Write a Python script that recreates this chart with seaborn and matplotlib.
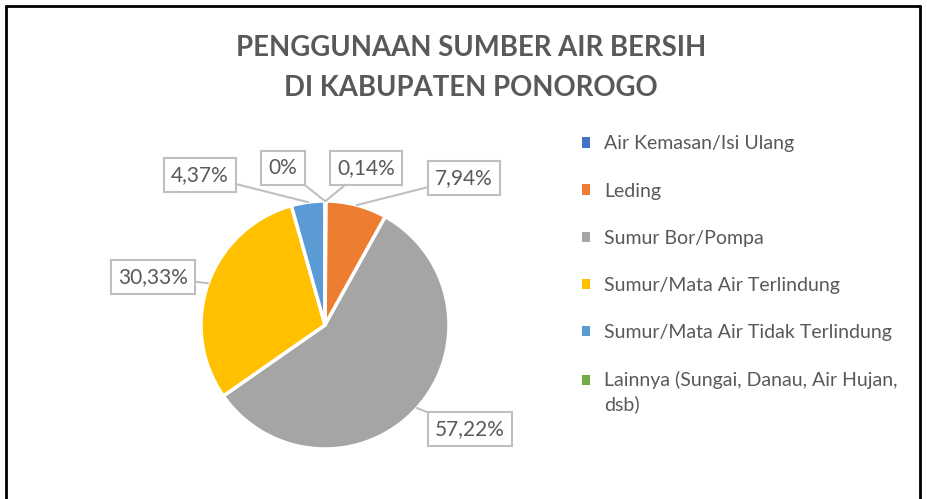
import matplotlib
matplotlib.use("Agg")
import matplotlib.pyplot as plt
import seaborn as sns
import numpy as np
from matplotlib.lines import Line2D

# data
categories = [
    "Air Kemasan/Isi Ulang",
    "Leding",
    "Sumur Bor/Pompa",
    "Sumur/Mata Air Terlindung",
    "Sumur/Mata Air Tidak Terlindung",
    "Lainnya (Sungai, Danau, Air Hujan,\ndsb)",
]
values = [0.14, 7.94, 57.22, 30.33, 4.37, 0.0]
value_labels = ["0,14%", "7,94%", "57,22%", "30,33%", "4,37%", "0%"]
colors = ["#4472C4", "#ED7D31", "#A5A5A5", "#FFC000", "#5B9BD5", "#70AD47"]

# label box centres in pixel space (x from left, y from top)
label_pos = [(366, 168), (464, 178), (470, 429), (153, 277), (200, 175), (283, 168)]

sns.set_theme(style="white")
plt.rcParams["font.family"] = ["Lato", "DejaVu Sans"]
text_color = "#595959"

W, H = 927, 499
fig = plt.figure(figsize=(W / 100, H / 100), dpi=100)
ax = fig.add_axes([0, 0, 1, 1])

cx, cy, r = 325, H - 325, 124
wedges, _ = ax.pie(values, colors=sns.color_palette(colors), startangle=90,
                   counterclock=False, center=(cx, cy), radius=r,
                   wedgeprops=dict(edgecolor="white", linewidth=2.5))
ax.set_xlim(0, W)
ax.set_ylim(0, H)
ax.set_aspect("equal")
ax.axis("off")

for w, lab, (lx, ly) in zip(wedges, value_labels, label_pos):
    ang = np.deg2rad((w.theta1 + w.theta2) / 2)
    px = cx + r * np.cos(ang)
    py = cy + r * np.sin(ang)
    ax.annotate(lab, xy=(px, py), xytext=(lx, H - ly),
                ha="center", va="center", fontsize=15, color=text_color,
                bbox=dict(boxstyle="square,pad=0.35", fc="white", ec="#BFBFBF", lw=1.5),
                arrowprops=dict(arrowstyle="-", color="#BFBFBF", lw=1.5,
                                shrinkA=0, shrinkB=0))

fig.text(471 / W, 1 - 48 / H, "PENGGUNAAN SUMBER AIR BERSIH", ha="center", va="center",
         fontsize=19.8, fontweight="bold", color=text_color)
fig.text(471 / W, 1 - 88 / H, "DI KABUPATEN PONOROGO", ha="center", va="center",
         fontsize=19.8, fontweight="bold", color=text_color)

leg = fig.legend(wedges, categories, loc="upper left", bbox_to_anchor=(564 / W, 1 - 118 / H),
                 frameon=False, fontsize=14, handlelength=0.45, handleheight=0.45,
                 handletextpad=0.7, labelspacing=1.55, labelcolor=text_color)
for h in leg.legend_handles:
    h.set_edgecolor("none")
for t in leg.get_texts():
    t.set_linespacing(1.4)
# put the marker of the two-line entry next to its first line
last = leg.legend_handles[-1]
last.set_y(last.get_y() + 9)

# chart border (left, top, right)
for xs, ys in [([6, 6], [H, 6]), ([6, 920], [6, 6]), ([920, 920], [6, H])]:
    fig.add_artist(Line2D([x / W for x in xs], [1 - y / H for y in ys],
                          color="black", lw=2, transform=fig.transFigure))

fig.savefig("out.png", dpi=100)
